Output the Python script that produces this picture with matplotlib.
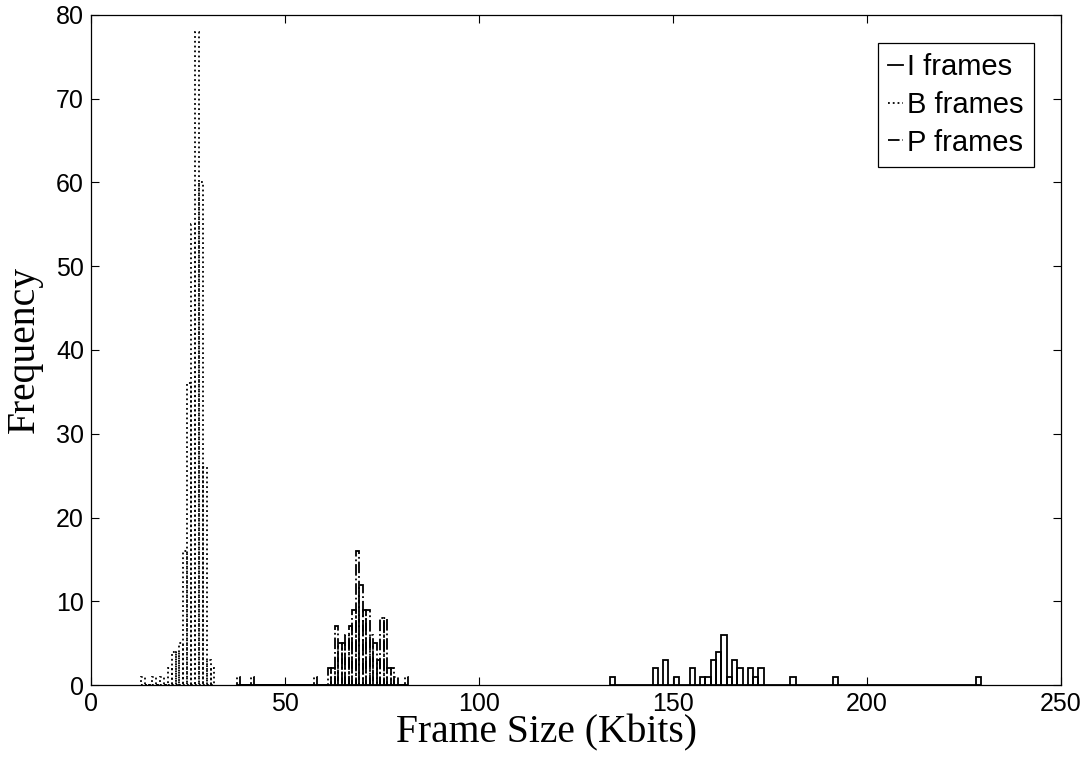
import matplotlib
matplotlib.use("Agg")
import matplotlib.pyplot as plt
import numpy as np
from matplotlib.lines import Line2D

# histogram bins: left edge of first bin, bin width (Kbits) and counts per bin
I_START, I_WIDTH = 133.8, 1.365
I_COUNTS = [1, 0, 0, 0, 0, 0, 0, 0, 2, 0,
            3, 0, 1, 0, 0, 2, 0, 1, 1, 3,
            4, 6, 1, 3, 2, 0, 2, 1, 2, 0,
            0, 0, 0, 0, 1, 0, 0, 0, 0, 0,
            0, 0, 1, 0, 0, 0, 0, 0, 0, 0,
            0, 0, 0, 0, 0, 0, 0, 0, 0, 0,
            0, 0, 0, 0, 0, 0, 0, 0, 0, 1]

B_START, B_WIDTH = 12.8, 1.0
B_COUNTS = [1, 0, 0, 1, 0, 1, 0, 2, 4, 4,
            5, 16, 36, 55, 78, 60, 26, 3, 2]

P_START, P_WIDTH = 37.6, 0.9
P_COUNTS = [1, 0, 0, 0, 1, 0, 0, 0, 0, 0,
            0, 0, 0, 0, 0, 0, 0, 0, 0, 0,
            0, 0, 1, 0, 0, 0, 2, 2, 7, 5,
            5, 6, 7, 9, 16, 12, 9, 9, 6, 5,
            3, 8, 8, 2, 2, 1, 0, 0, 1]

LABELS = ["I frames", "B frames", "P frames"]
X_TICKS = [0, 50, 100, 150, 200, 250]
Y_TICKS = [0, 10, 20, 30, 40, 50, 60, 70, 80]

SANS = "Liberation Sans"
SERIF = "Liberation Serif"


def draw_hist(ax, start, width, counts, style):
    lefts = start + width * np.arange(len(counts))
    ax.bar(lefts, counts, width=width, align="edge", fill=False,
           edgecolor="black", linestyle=style, linewidth=1.3)


fig = plt.figure(figsize=(10.9, 7.57), dpi=100)
ax = fig.add_axes([0.0835, 0.0951, 0.8899, 0.8851])

draw_hist(ax, I_START, I_WIDTH, I_COUNTS, "-")
draw_hist(ax, B_START, B_WIDTH, B_COUNTS, ":")
draw_hist(ax, P_START, P_WIDTH, P_COUNTS, "-.")

ax.set_xlim(0, 250)
ax.set_ylim(0, 80)
ax.set_xticks(X_TICKS)
ax.set_yticks(Y_TICKS)
ax.tick_params(direction="in", top=True, right=True, length=6, width=0.8,
               labelsize=18, pad=5)
for lbl in ax.get_xticklabels() + ax.get_yticklabels():
    lbl.set_fontfamily(SANS)
for sp in ax.spines.values():
    sp.set_linewidth(0.9)

ax.set_xlabel("Frame Size (Kbits)", fontfamily=SERIF, fontsize=28.5)
ax.set_ylabel("Frequency", fontfamily=SERIF, fontsize=28.5)
ax.xaxis.set_label_coords(0.470, -0.043)
ax.yaxis.set_label_coords(-0.050, 0.5)

handles = [Line2D([], [], color="black", linestyle=s, linewidth=1.3)
           for s in ["-", ":", "-."]]
leg = ax.legend(handles, LABELS, loc="upper right",
                bbox_to_anchor=(0.972, 0.958), prop={"family": SANS, "size": 21},
                fancybox=False, edgecolor="black", framealpha=1,
                handlelength=0.5, handletextpad=0.15, borderpad=0.35,
                labelspacing=0.33, borderaxespad=0)
leg.get_frame().set_linewidth(0.9)

fig.savefig("out.png", dpi=100)
